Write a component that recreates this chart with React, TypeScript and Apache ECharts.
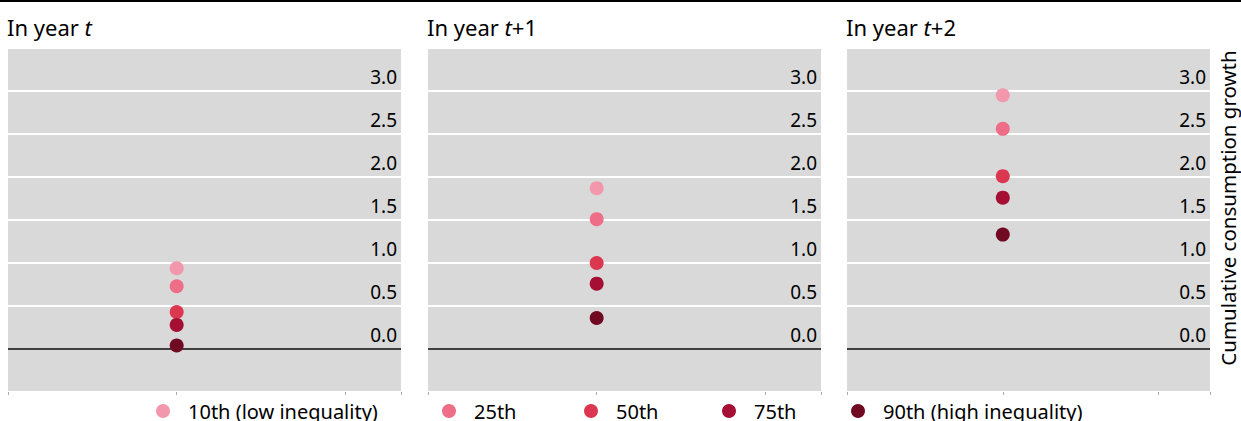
import React, { useEffect, useRef } from "react";
import * as echarts from "echarts";

const percentiles = ["10th (low inequality)", "25th", "50th", "75th", "90th (high inequality)"];
const colors = ["#f297ac", "#ee6d87", "#db3750", "#a40f33", "#700a22"];
const yearT = [0.94, 0.73, 0.43, 0.28, 0.04];
const yearT1 = [1.87, 1.51, 1.0, 0.76, 0.36];
const yearT2 = [2.95, 2.56, 2.01, 1.76, 1.33];
const panelValues = [yearT, yearT1, yearT2];
const panelSuffix = ["", "+1", "+2"];
const yAxisName = "Cumulative consumption growth";

const FONT = "'Noto Sans', sans-serif";

export default function App() {
  const ref = useRef<HTMLDivElement>(null);
  useEffect(() => {
    document.body.style.margin = "0";
    const chart = echarts.init(ref.current!, null, { renderer: "svg" });
    const grids = [
      { left: 8, width: 393 },
      { left: 428, width: 393 },
      { left: 847, width: 363 },
    ];
    const series: any[] = [];
    panelValues.forEach((vals, p) => {
      vals.forEach((v, i) => {
        series.push({
          type: "scatter",
          name: percentiles[i],
          xAxisIndex: p,
          yAxisIndex: p,
          symbol: "circle",
          symbolSize: 14,
          itemStyle: { color: colors[i], opacity: 1 },
          data: [[1, v]],
          z: 3,
          markLine:
            i === 0
              ? {
                  silent: true,
                  symbol: "none",
                  label: { show: false },
                  lineStyle: { color: "#000", width: 1.5, type: "solid", opacity: 1 },
                  data: [{ yAxis: 0 }],
                  z: 2,
                }
              : undefined,
        });
      });
    });
    const legendLefts = [156, 442, 584, 722, 851];
    chart.setOption({
      animation: false,
      textStyle: { fontFamily: FONT },
      title: panelValues.map((_, p) => ({
        text: `{a|In year }{b|t}{a|${panelSuffix[p]}}`,
        left: grids[p].left - 1,
        top: 16,
        padding: 0,
        textStyle: {
          fontWeight: "normal",
          rich: {
            a: { fontFamily: FONT, fontSize: 22, color: "#000", fontWeight: "normal" },
            b: { fontFamily: FONT, fontSize: 22, color: "#000", fontStyle: "italic", fontWeight: "normal" },
          },
        },
      })),
      grid: grids.map((g) => ({
        left: g.left,
        width: g.width,
        top: 48,
        height: 344,
        show: true,
        backgroundColor: "#d9d9d9",
        borderWidth: 0,
      })),
      xAxis: grids.map((_, p) => ({
        type: "value",
        gridIndex: p,
        min: 0,
        max: 2.33,
        interval: 1,
        axisLabel: { show: false },
        splitLine: { show: false },
        axisLine: { show: false, onZero: false },
        axisTick: { show: true, length: 3, lineStyle: { color: "#aaa" } },
      })),
      yAxis: grids.map((_, p) => ({
        type: "value",
        gridIndex: p,
        position: "right",
        min: -0.5,
        max: 3.5,
        interval: 0.5,
        axisLine: { show: false },
        axisTick: { show: false },
        splitLine: { show: true, lineStyle: { color: "#fff", width: 2 } },
        axisLabel: {
          inside: true,
          showMinLabel: false,
          showMaxLabel: false,
          margin: 4,
          verticalAlign: "bottom",
          padding: [0, 0, 5, 0],
          color: "#000",
          fontSize: 19,
          fontFamily: FONT,
          formatter: (v: number) => v.toFixed(1),
        },
      })),
      legend: percentiles.map((name, i) => ({
        data: [name],
        left: legendLefts[i],
        top: 401,
        padding: 0,
        icon: "circle",
        itemWidth: 14,
        itemHeight: 14,
        selectedMode: false,
        itemStyle: { opacity: 1 },
        textStyle: {
          fontFamily: FONT,
          fontSize: 20,
          lineHeight: 17,
          color: "#000",
          padding: [0, 0, 0, 13],
        },
      })),
      graphic: [
        {
          type: "rect",
          shape: { x: 0, y: 0, width: 1241, height: 2 },
          style: { fill: "#000" },
        },
        {
          type: "text",
          x: 1228,
          y: 208,
          rotation: Math.PI / 2,
          style: {
            text: yAxisName,
            fontFamily: FONT,
            fontSize: 20.5,
            lineHeight: 20,
            fill: "#000",
            align: "center",
            verticalAlign: "middle",
          },
        },
      ],
      series,
    });
    return () => chart.dispose();
  }, []);
  return <div ref={ref} style={{ width: 1241, height: 421 }} />;
}
